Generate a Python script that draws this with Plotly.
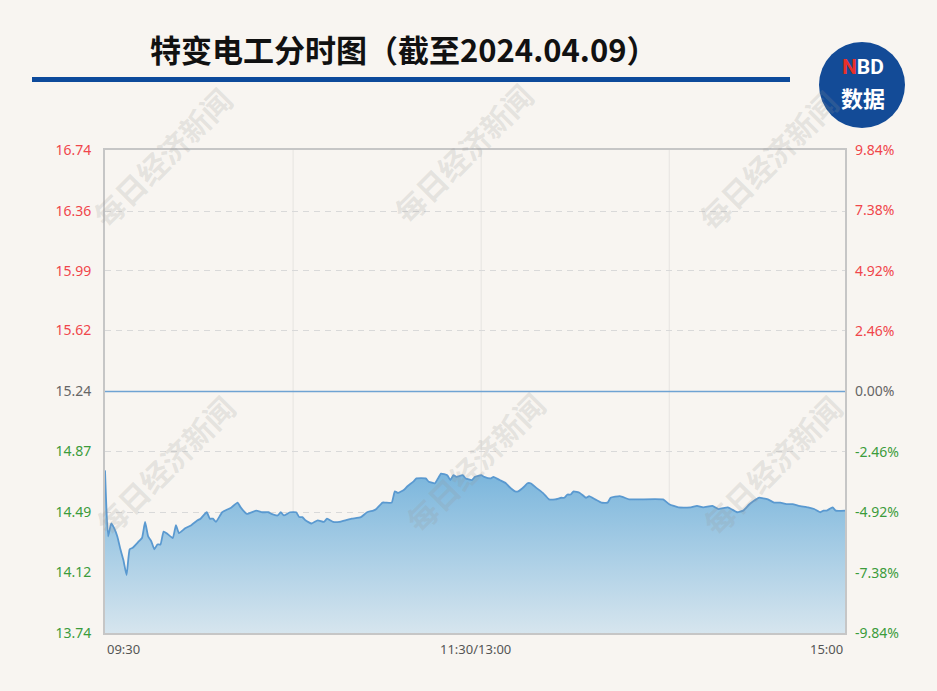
import plotly.graph_objects as go

# ---------------- data ----------------
TITLE = "特变电工分时图（截至2024.04.09）"
PREV_CLOSE = 15.24
Y_MIN, Y_MAX = 13.74, 16.74
PRICE_TICKS = [16.74, 16.36, 15.99, 15.62, 15.24, 14.87, 14.49, 14.12, 13.74]
PCT_TICKS = [9.84, 7.38, 4.92, 2.46, 0.00, -2.46, -4.92, -7.38, -9.84]
PCT_LABELS = ["9.84%", "7.38%", "4.92%", "2.46%", "0.00%", "-2.46%", "-4.92%", "-7.38%", "-9.84%"]
TIME_LABELS = ["09:30", "11:30/13:00", "15:00"]
TIME_POS = [0, 120, 240]

# minute index from 09:30 (0..240, lunch break removed)
minutes = [0, 1, 2, 3, 4, 5, 6, 7, 8, 9, 11, 12, 13, 14, 15, 16, 17, 18, 19, 20,
           22, 23, 24, 26, 28, 30, 31, 33, 34, 35, 36, 38, 40, 41, 43, 44, 46, 49,
           51, 53, 54, 56, 57, 58, 60, 62, 63, 64, 65, 67, 69, 71, 72, 74, 76, 78,
           80, 83, 85, 87, 88, 90, 91, 93, 94, 95, 97, 98, 100, 101, 104, 105, 107,
           108, 109, 111, 112, 113, 114, 116, 117, 119, 120,
           122, 123, 125, 126, 128, 130, 131, 133, 134, 136, 137, 138, 140, 142,
           143, 144, 146, 148, 149, 150, 151, 152, 154, 156, 157, 159, 161, 163,
           164, 167, 170, 172, 181, 183, 186, 190, 192, 194, 197, 199, 202, 204,
           205, 207, 209, 212, 215, 217, 219, 221, 223, 225, 228, 230, 232, 233,
           234, 236, 237, 240]
prices = [14.75, 14.34, 14.42, 14.39, 14.34, 14.26, 14.19, 14.10, 14.26, 14.27,
          14.31, 14.33, 14.43, 14.34, 14.31, 14.26, 14.29, 14.29, 14.37, 14.36,
          14.33, 14.41, 14.36, 14.39, 14.41, 14.44, 14.45, 14.49, 14.45, 14.45,
          14.43, 14.49, 14.51, 14.52, 14.55, 14.52, 14.48, 14.50, 14.49, 14.49,
          14.48, 14.47, 14.49, 14.47, 14.49, 14.49, 14.46, 14.46, 14.44, 14.42,
          14.44, 14.43, 14.45, 14.43, 14.43, 14.44, 14.45, 14.46, 14.49, 14.50,
          14.51, 14.55, 14.55, 14.55, 14.62, 14.61, 14.63, 14.65, 14.68, 14.70,
          14.70, 14.68, 14.67, 14.70, 14.73, 14.72, 14.69, 14.72, 14.71, 14.72,
          14.70, 14.69, 14.71,
          14.72, 14.71, 14.70, 14.71, 14.69, 14.67, 14.65, 14.62, 14.62, 14.65,
          14.67, 14.67, 14.64, 14.61, 14.59, 14.57, 14.57, 14.58, 14.58, 14.60,
          14.60, 14.62, 14.61, 14.58, 14.59, 14.57, 14.55, 14.55, 14.58, 14.59,
          14.57, 14.57, 14.57, 14.54, 14.52, 14.52, 14.53, 14.52, 14.53, 14.51,
          14.52, 14.50, 14.49, 14.50, 14.54, 14.58, 14.57, 14.55, 14.55, 14.54,
          14.54, 14.53, 14.52, 14.51, 14.49, 14.50, 14.50, 14.52, 14.50, 14.50]

RED, GRAY, GREEN = "#f0464b", "#666666", "#3c9c3c"
BG = "#f8f5f1"


def colored(label, value, ref):
    c = RED if value > ref else (GREEN if value < ref else GRAY)
    return f'<span style="color:{c}">{label}</span>'


price_text = [colored(f"{v:.2f}", v, PREV_CLOSE) for v in PRICE_TICKS]
pct_text = [colored(l, v, 0) for l, v in zip(PCT_LABELS, PCT_TICKS)]

fig = go.Figure()

fig.add_trace(go.Scatter(
    x=minutes, y=prices, mode="lines",
    line=dict(color="#5a99d0", width=1.8, shape="spline", smoothing=0.4),
    fill="tozeroy",
    fillgradient=dict(type="vertical",
                      colorscale=[[0, "#d6e5ee"], [1, "#79b5dc"]],
                      start=Y_MIN, stop=max(prices)),
    hoverinfo="skip", showlegend=False, yaxis="y",
))

# baseline (previous close = 0.00%)
fig.add_trace(go.Scatter(
    x=[TIME_POS[0], TIME_POS[-1]], y=[0.0, 0.0], mode="lines",
    line=dict(color="#6fa3d3", width=1.5),
    hoverinfo="skip", showlegend=False, yaxis="y2",
))

L, R, T, B = 105, 845, 150, 633
W, H = 937, 691


def px(x):
    return (x - L) / (R - L)


def py(y):
    return (B - y) / (B - T)


shapes = []
# vertical light grid lines
for m in [61, 122, 183]:
    shapes.append(dict(type="line", xref="x", yref="paper", x0=m, x1=m, y0=0, y1=1,
                       line=dict(color="#e6e4e1", width=1), layer="below"))
# title underline bar
shapes.append(dict(type="rect", xref="paper", yref="paper",
                   x0=px(32), x1=px(790), y0=py(82), y1=py(77),
                   line=dict(width=0), fillcolor="#0d4a9b"))
# logo circle
shapes.append(dict(type="circle", xref="paper", yref="paper",
                   x0=px(819), x1=px(905), y0=py(128), y1=py(42),
                   line=dict(width=0), fillcolor="#134b97"))

C = dict(xanchor="center", yanchor="middle", showarrow=False, xref="paper", yref="paper",
         borderpad=0)
annotations = []
# title
annotations.append(dict(text=f"<b>{TITLE}</b>", x=px(403), y=py(48),
                        font=dict(family="Noto Sans CJK SC", size=31, color="#111111"), **C))
# logo text
annotations.append(dict(text='<b><span style="color:#e8302a">N</span>BD</b>',
                        x=px(863), y=py(67),
                        font=dict(family="Roboto", size=21, color="white"), **C))
annotations.append(dict(text="<b>数据</b>", x=px(863), y=py(97),
                        font=dict(family="Noto Sans CJK SC", size=22, color="white"), **C))
# watermarks
for cx, cy in [(162, 157), (463, 153), (768, 160), (165, 465), (475, 462), (772, 465)]:
    annotations.append(dict(text="<b>每日经济新闻</b>", x=px(cx), y=py(cy), textangle=-45,
                            font=dict(family="Noto Sans CJK SC", size=30,
                                      color="rgba(150,150,150,0.2)"), **C))
# x labels
for lab, pos, anc in zip(TIME_LABELS, TIME_POS, ["left", "center", "right"]):
    annotations.append(dict(text=lab, x=pos, xref="x", y=py(649), yref="paper",
                            xanchor=anc, yanchor="middle", showarrow=False,
                            font=dict(family="Noto Sans", size=13, color="#555555")))

fig.update_layout(
    width=W, height=H,
    margin=dict(l=L, r=W - R, t=T, b=H - B),
    paper_bgcolor=BG, plot_bgcolor=BG,
    font=dict(family="Noto Sans", size=14),
    xaxis=dict(range=[TIME_POS[0], TIME_POS[-1]], showgrid=False, zeroline=False,
               showticklabels=False, ticks="",
               showline=True, mirror=True, linecolor="#c6c6c6", linewidth=2),
    yaxis=dict(range=[Y_MIN, Y_MAX], tickvals=PRICE_TICKS, ticktext=price_text,
               showgrid=True, gridcolor="#d9d9d9", griddash="6px,5px", gridwidth=1,
               zeroline=False, ticks="", ticklabelstandoff=9,
               showline=True, mirror=True, linecolor="#c6c6c6", linewidth=2,
               tickfont=dict(size=14)),
    yaxis2=dict(range=[PCT_TICKS[-1], PCT_TICKS[0]], tickvals=PCT_TICKS, ticktext=pct_text,
                overlaying="y", side="right", showgrid=False, zeroline=False,
                ticks="", ticklabelstandoff=9, tickfont=dict(size=14)),
    shapes=shapes, annotations=annotations,
)

fig.write_html("out.html", config={"displayModeBar": False},
               post_script="document.body.style.margin='0';document.body.style.padding='0';")
